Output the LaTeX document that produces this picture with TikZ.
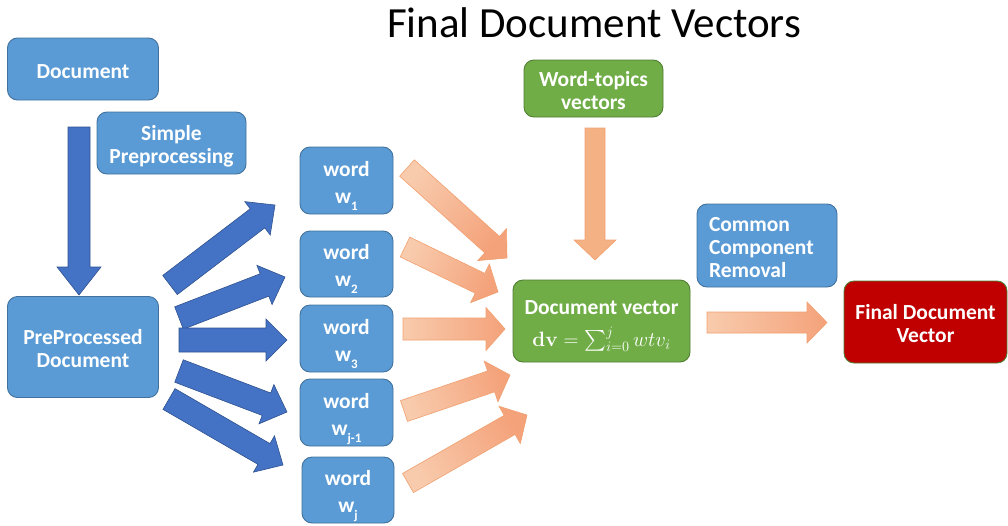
\documentclass[tikz,border=0pt]{standalone}
\usepackage{exscale}
\usepackage[no-math]{fontspec}
\setmainfont{Carlito}
\usetikzlibrary{calc}

\definecolor{boxblue}{HTML}{5B9BD5}
\definecolor{boxblueline}{HTML}{41719C}
\definecolor{arrblue}{HTML}{4472C4}
\definecolor{arrblueline}{HTML}{2F528F}
\definecolor{boxgreen}{HTML}{70AD47}
\definecolor{boxgreenline}{HTML}{507E32}
\definecolor{boxred}{HTML}{C00000}
\definecolor{orlight}{HTML}{F8CBAD}
\definecolor{ordark}{HTML}{F4A27A}
\definecolor{ormid}{HTML}{F4B183}
\definecolor{orline}{HTML}{F1A070}

% block arrow: #1 style, #2 tail, #3 tip, #4 half shaft width, #5 half head width, #6 head length
\newcommand\blockarrow[6]{%
  \coordinate (ba-neck) at ($(#3)!#6!(#2)$);
  \path[#1] ($(#2)!#4!90:(#3)$) -- ($(ba-neck)!#4!-90:(#2)$) -- ($(ba-neck)!#5!-90:(#2)$) -- (#3)
    -- ($(ba-neck)!#5!90:(#2)$) -- ($(ba-neck)!#4!90:(#2)$) -- ($(#2)!#4!-90:(#3)$) -- cycle;}

% struts that set the text a little low in its box
\newcommand\topstrut{\rule{0pt}{24pt}}
\newcommand\botstrut{\rule[-6pt]{0pt}{6pt}}

% word with a lowered index
\newcommand\wsub[1]{w\smash{\raisebox{-7pt}{\fontsize{13}{13}\selectfont #1}}}

\begin{document}
\begin{tikzpicture}[x=1pt,y=-1pt,
  box/.style={rounded corners=10pt, draw=boxblueline, fill=boxblue, line width=0.9pt,
    text=white, font=\fontsize{21.5}{23}\selectfont\bfseries, align=center,
    inner sep=0pt, outer sep=0pt},
  greenbox/.style={box, draw=boxgreenline, fill=boxgreen},
  redbox/.style={box, draw=boxgreenline, fill=boxred},
  bluearrow/.style={fill=arrblue, draw=arrblueline, line width=0.6pt},
  orangearrow/.style={left color=orlight, right color=ordark, draw=orline, line width=0.6pt}]

\useasboundingbox (0,0) rectangle (1008,525);

% title
\node[anchor=base, font=\fontsize{43}{48}\selectfont] (title) at (594,37) {Final Document Vectors};

% boxes
\node[box, minimum width=151pt, minimum height=62pt] (doc) at (83,69) {\topstrut Document\botstrut};
\node[box, minimum width=149pt, minimum height=62pt] (pre) at (171.5,143) {\topstrut Simple\\Preprocessing\botstrut};
\node[box, minimum width=151pt, minimum height=101pt] (ppd) at (83,347) {\topstrut PreProcessed\\Document\botstrut};

\node[box, minimum width=93pt, minimum height=67pt] (w1) at (346.5,180.5) {\topstrut word\\[4pt]\wsub{1}\botstrut};
\node[box, minimum width=93pt, minimum height=66pt] (w2) at (346.5,264) {\topstrut word\\[4pt]\wsub{2}\botstrut};
\node[box, minimum width=93pt, minimum height=67pt] (w3) at (346.5,338.5) {\topstrut word\\[4pt]\wsub{3}\botstrut};
\node[box, minimum width=93pt, minimum height=67pt] (wj1) at (346.5,412.5) {\topstrut word\\[4pt]\wsub{j-1}\botstrut};
\node[box, minimum width=92pt, minimum height=66pt] (wj) at (348,490) {\topstrut word\\[4pt]\wsub{j}\botstrut};

\node[greenbox, minimum width=139pt, minimum height=57pt] (wtv) at (593.5,88.5) {\topstrut Word-topics\\vectors\botstrut};
\node[greenbox, minimum width=177pt, minimum height=82pt] (dv) at (601.5,321)
  {\topstrut Document vector\\[9pt]{\fontsize{20.5}{22}\selectfont$\mathbf{dv} = \textstyle\sum_{i=0}^{j} wtv_i$}\botstrut};
\node[box, minimum width=140pt, minimum height=83pt, align=left, text width=116pt] (ccr) at (767,245.5)
  {\topstrut Common\\Component\\Removal\botstrut};
\node[redbox, minimum width=163pt, minimum height=82pt] (fdv) at (925.5,322) {\topstrut Final Document\\Vector\botstrut};

% arrow ends
\coordinate (d-tail) at (79,127);   \coordinate (d-tip) at (79,295);
\coordinate (b1-tail) at (170,285); \coordinate (b1-tip) at (275,205);
\coordinate (b2-tail) at (179,318); \coordinate (b2-tip) at (285,277);
\coordinate (b3-tail) at (179,340); \coordinate (b3-tip) at (287,340);
\coordinate (b4-tail) at (179,371); \coordinate (b4-tip) at (287,412);
\coordinate (b5-tail) at (169,399); \coordinate (b5-tip) at (283,465);

\coordinate (o1-tail) at (407,168); \coordinate (o1-tip) at (507,258);
\coordinate (o2-tail) at (405,247); \coordinate (o2-tip) at (498,292);
\coordinate (o3-tail) at (403,329); \coordinate (o3-tip) at (505,329);
\coordinate (o4-tail) at (404,411); \coordinate (o4-tip) at (510,375);
\coordinate (o5-tail) at (408,483); \coordinate (o5-tip) at (527,415);
\coordinate (ov-tail) at (595,128); \coordinate (ov-tip) at (595,260);
\coordinate (of-tail) at (707,322.5); \coordinate (of-tip) at (827,322.5);

% blue arrows
\blockarrow{bluearrow}{d-tail}{d-tip}{11pt}{22pt}{28pt}
\blockarrow{bluearrow}{b1-tail}{b1-tip}{12pt}{21pt}{22pt}
\blockarrow{bluearrow}{b2-tail}{b2-tip}{12pt}{21pt}{22pt}
\blockarrow{bluearrow}{b3-tail}{b3-tip}{12pt}{21pt}{21pt}
\blockarrow{bluearrow}{b4-tail}{b4-tip}{12pt}{21pt}{22pt}
\blockarrow{bluearrow}{b5-tail}{b5-tip}{12pt}{21pt}{22pt}

% orange arrows
\blockarrow{orangearrow, shading angle=48}{o1-tail}{o1-tip}{11pt}{21.5pt}{20pt}
\blockarrow{orangearrow, shading angle=64}{o2-tail}{o2-tip}{11pt}{21.5pt}{20pt}
\blockarrow{orangearrow, shading angle=90}{o3-tail}{o3-tip}{11pt}{21.5pt}{19pt}
\blockarrow{orangearrow, shading angle=109}{o4-tail}{o4-tip}{11pt}{21.5pt}{20pt}
\blockarrow{orangearrow, shading angle=120}{o5-tail}{o5-tip}{11pt}{21.5pt}{20pt}
\blockarrow{fill=ormid, draw=orline, line width=0.6pt}{ov-tail}{ov-tip}{10pt}{21pt}{20pt}
\blockarrow{orangearrow, shading angle=90}{of-tail}{of-tip}{10.5pt}{20.5pt}{20pt}

\end{tikzpicture}
\end{document}
